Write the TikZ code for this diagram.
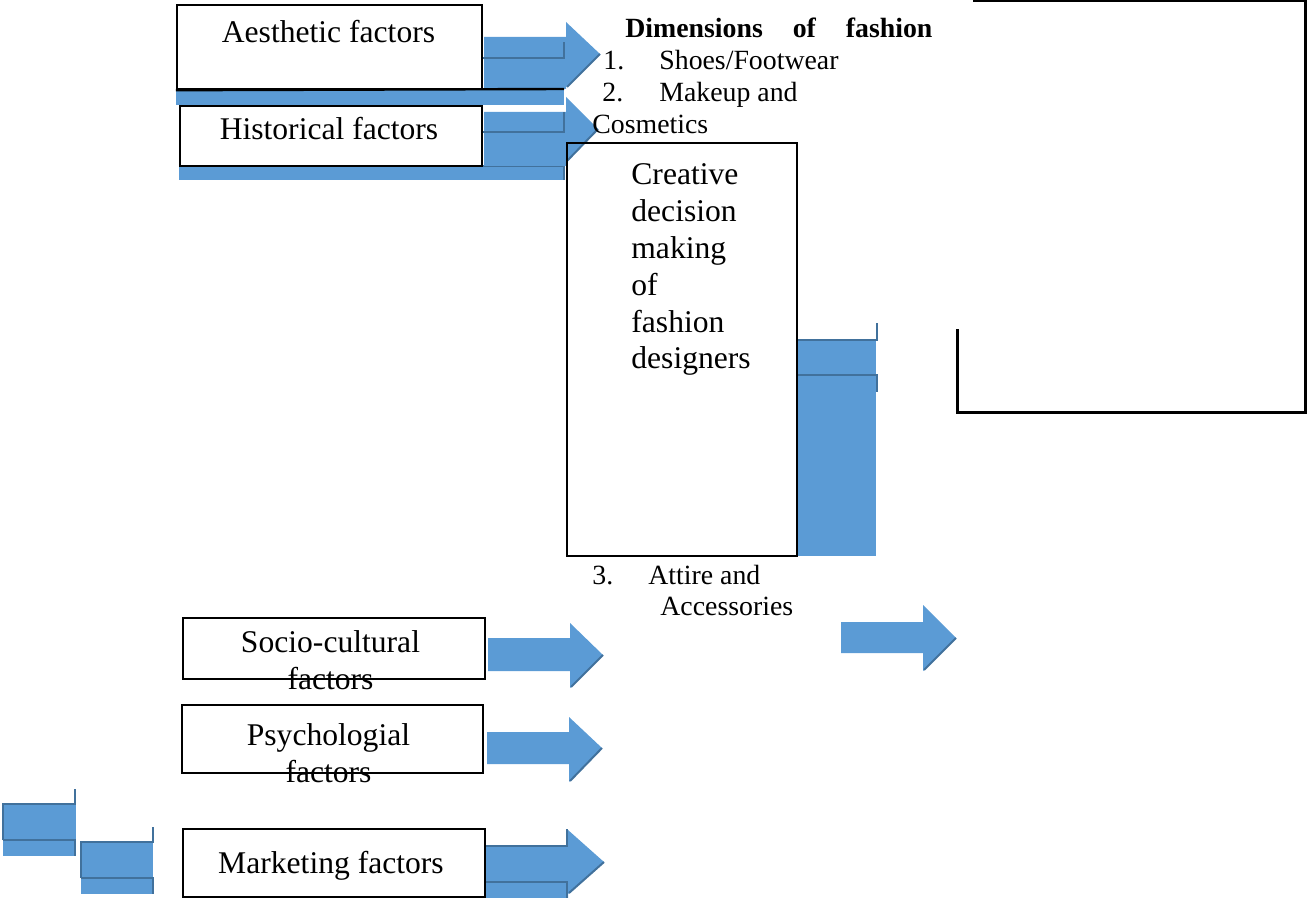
\documentclass[tikz,border=0pt]{standalone}
\usepackage{fontspec}
\setmainfont{Liberation Serif}
\usetikzlibrary{positioning}
\definecolor{arrowblue}{HTML}{5B9BD5}
\definecolor{edgeblue}{HTML}{41719C}

\begin{document}
\begin{tikzpicture}[x=0.5pt, y=-0.5pt,
    factorbox/.style={draw, line width=1.2pt, inner sep=0pt},
    biglabel/.style={inner sep=0pt, font=\fontsize{15.8}{18.4}\selectfont},
    smalllabel/.style={inner sep=0pt, font=\fontsize{13.9}{16}\selectfont},
    blockfill/.style={fill=arrowblue},
    edgeline/.style={draw=edgeblue, line width=1pt},
    frameline/.style={draw, line width=1.5pt}]
    \useasboundingbox (0,0) rectangle (1307,898);

    % blue bars and block arrows
    \fill[blockfill] (176,89) rectangle (564,105);
    \fill[blockfill] (179,166) rectangle (564,180);
    \draw[edgeline] (179,166) -- (564,166) -- (564,180);

    \fill[blockfill] (484,37) -- (566,37) -- (566,22) -- (600,54) -- (566,87) -- (566,89) -- (484,89) -- cycle;
    \draw[edgeline] (483,58) -- (564,58) -- (564,42);
    \draw[edgeline] (600,54) -- (567,87);

    \fill[blockfill] (484,112) -- (566,112) -- (566,97) -- (598,129) -- (566,162) -- (566,166) -- (484,166) -- cycle;
    \draw[edgeline] (483,132) -- (564,132) -- (564,112);
    \draw[edgeline] (598,129) -- (567,161);

    \fill[blockfill] (488,638) -- (570,638) -- (570,623) -- (603,655) -- (570,688) -- (570,671) -- (488,671) -- cycle;
    \draw[edgeline] (603,655) -- (571,687);

    \fill[blockfill] (487,732) -- (569,732) -- (569,717) -- (602,748) -- (569,782) -- (569,764) -- (487,764) -- cycle;
    \draw[edgeline] (602,748) -- (570,781);

    \fill[blockfill] (486,846) -- (568,846) -- (568,830) -- (604,862) -- (568,894) -- (568,898) -- (486,898) -- cycle;
    \draw[edgeline] (486,846) -- (567,846) -- (567,829);
    \draw[edgeline] (486,882) -- (567,882) -- (567,898);
    \draw[edgeline] (604,862) -- (569,893);

    \fill[blockfill] (841,622) -- (923,622) -- (923,605) -- (956,638) -- (923,671) -- (923,653) -- (841,653) -- cycle;
    \draw[edgeline] (956,638) -- (924,670);

    \fill[blockfill] (797,340) rectangle (876,556);
    \draw[edgeline] (797,340) -- (877,340) -- (877,323);
    \draw[edgeline] (797,375) -- (877,375) -- (877,392);

    \fill[blockfill] (3,804) rectangle (76,856);
    \draw[edgeline] (3,840) -- (3,804) -- (75,804) -- (75,789);
    \draw[edgeline] (3,840) -- (75,840) -- (75,856);
    \fill[blockfill] (81,842) rectangle (153,894);
    \draw[edgeline] (81,878) -- (81,842) -- (153,842) -- (153,827);
    \draw[edgeline] (81,878) -- (153,878) -- (153,894);

    % boxes
    \node[factorbox, minimum width=152.5pt, minimum height=42pt] (aesbox) at (329.5,47) {};
    \node[factorbox, minimum width=151pt, minimum height=30pt] (hisbox) at (331,136) {};
    \node[factorbox, minimum width=115pt, minimum height=206.5pt] (crebox) at (682,349.5) {};
    \node[factorbox, minimum width=151pt, minimum height=30.5pt] (socbox) at (334,648.5) {};
    \node[factorbox, minimum width=150.5pt, minimum height=34pt] (psybox) at (332.5,739) {};
    \node[factorbox, minimum width=151pt, minimum height=34pt] (mktbox) at (334,863) {};
    \draw[line width=1.2pt] (aesbox.south west) -- (564,89);
    \draw[frameline] (973,1) -- (1305,1) -- (1305,413) -- (957,413) -- (957,329);

    % labels
    \node[biglabel, anchor=base] (aestxt) at (328.5,43) {Aesthetic factors};
    \node[biglabel, anchor=base] (histxt) at (329,140) {Historical factors};
    \node[biglabel, anchor=base, align=center] (soctxt) at (330.5,689) {Socio-cultural\\factors};
    \node[biglabel, anchor=base, align=center] (psytxt) at (328.5,782) {Psychologial\\factors};
    \node[biglabel, anchor=base] (mkttxt) at (331,873) {Marketing factors};
    \node[biglabel, anchor=base west, align=left] (cretxt) at (631,369) {Creative\\decision\\making\\of\\fashion\\designers};

    \node[smalllabel, anchor=base west] (dimtitle) at (625,38) {\hbox to 153.5pt{\bfseries Dimensions\hfill of\hfill fashion}};
    \node[smalllabel, anchor=base west] (itemone) at (603,70) {\makebox[28pt][l]{1.}Shoes/Footwear};
    \node[smalllabel, anchor=base west] (itemtwo) at (602,102) {\makebox[28.5pt][l]{2.}Makeup and};
    \node[smalllabel, anchor=base west] (itemtwob) at (592,134) {Cosmetics};
    \node[smalllabel, anchor=base west] (itemthree) at (592,584) {\makebox[28pt][l]{3.}Attire and};
    \node[smalllabel, anchor=base west] (itemthreeb) at (660,616) {Accessories};
\end{tikzpicture}
\end{document}
